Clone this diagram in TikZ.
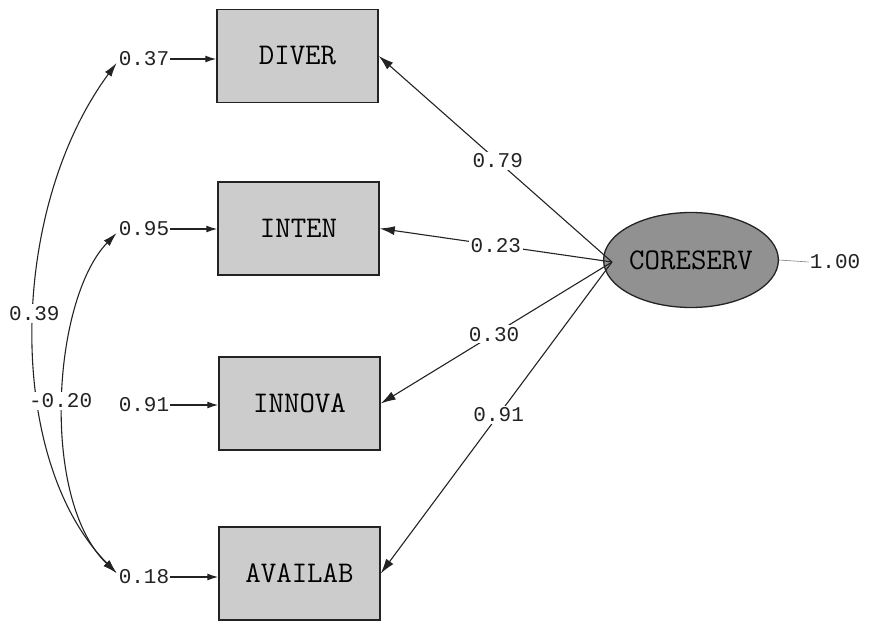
\documentclass[tikz,border=0pt]{standalone}
\usepackage{fontspec}
\newfontfamily\numfont{Liberation Mono}
\usetikzlibrary{arrows.meta,shapes.geometric}
\definecolor{boxgray}{RGB}{204,204,204}
\definecolor{latgray}{RGB}{145,145,145}
\definecolor{inkgray}{RGB}{35,35,35}
\begin{document}
\begin{tikzpicture}[x=1pt,y=-1pt,
  obs/.style={draw=inkgray,line width=1.5pt,fill=boxgray,minimum width=161pt,minimum height=93pt,
    inner sep=0pt,font=\ttfamily\fontsize{30}{30}\selectfont},
  lat/.style={ellipse,draw=inkgray,line width=1.3pt,fill=latgray,minimum width=160pt,minimum height=95pt,
    inner sep=0pt,font=\ttfamily\fontsize{30}{30}\selectfont},
  num/.style={font=\numfont\fontsize{21}{21}\selectfont,inner sep=1pt,text=inkgray},
  lbl/.style={num,fill=white,inner sep=2pt},
  load/.style={-{Latex[length=15pt,width=9pt]},line width=1.1pt,draw=inkgray},
  err/.style={-{Latex[length=11pt,width=7pt]},line width=1.3pt,draw=inkgray},
  cov/.style={{Latex[length=14pt,width=8pt]}-{Latex[length=14pt,width=8pt]},line width=1.1pt,draw=inkgray}]
\useasboundingbox (0,0) rectangle (873,626);

% observed indicators
\node[obs] (diver)  at (297.5,56)  {DIVER};
\node[obs] (inten)  at (298.5,228.5) {INTEN};
\node[obs] (innova) at (299.5,403.5) {INNOVA};
\node[obs] (avail)  at (299.5,573.5) {AVAILAB};

% latent factor
\node[lat] (cs) at (691,260) {CORESERV};

% error variances
\node[num] (e1) at (144,59)  {0.37};
\node[num] (e2) at (144,229) {0.95};
\node[num] (e3) at (144,405) {0.91};
\node[num] (e4) at (144,577) {0.18};
\draw[err] (e1.east) -- (diver.west |- e1.east);
\draw[err] (e2.east) -- (inten.west |- e2.east);
\draw[err] (e3.east) -- (innova.west |- e3.east);
\draw[err] (e4.east) -- (avail.west |- e4.east);

% factor variance
\node[num] (fv) at (835,262) {1.00};
\draw[gray,line width=0.6pt] (cs.east) -- (fv.west);

% loadings
\coordinate (src) at (612,262);
\draw[load] (src) -- node[lbl,pos=0.49] {0.79} (diver.east);
\draw[load] (src) -- node[lbl,pos=0.5]  {0.23} (inten.east);
\draw[load] (src) -- node[lbl,pos=0.51] {0.30} (innova.east);
\draw[load] (src) -- node[lbl,pos=0.49] {0.91} (avail.east);

% error covariances
\draw[cov] ([xshift=-1pt,yshift=-4pt]e1.west) .. controls (8,210) and (5,460) ..
  node[lbl,pos=0.47] {0.39} ([xshift=-1pt,yshift=4pt]e4.west);
\draw[cov] ([xshift=-1pt,yshift=-4pt]e2.west) .. controls (52,300) and (40,500) ..
  node[lbl,pos=0.5,xshift=-3pt] {-0.20} ([xshift=-1pt,yshift=4pt]e4.west);
\end{tikzpicture}
\end{document}
